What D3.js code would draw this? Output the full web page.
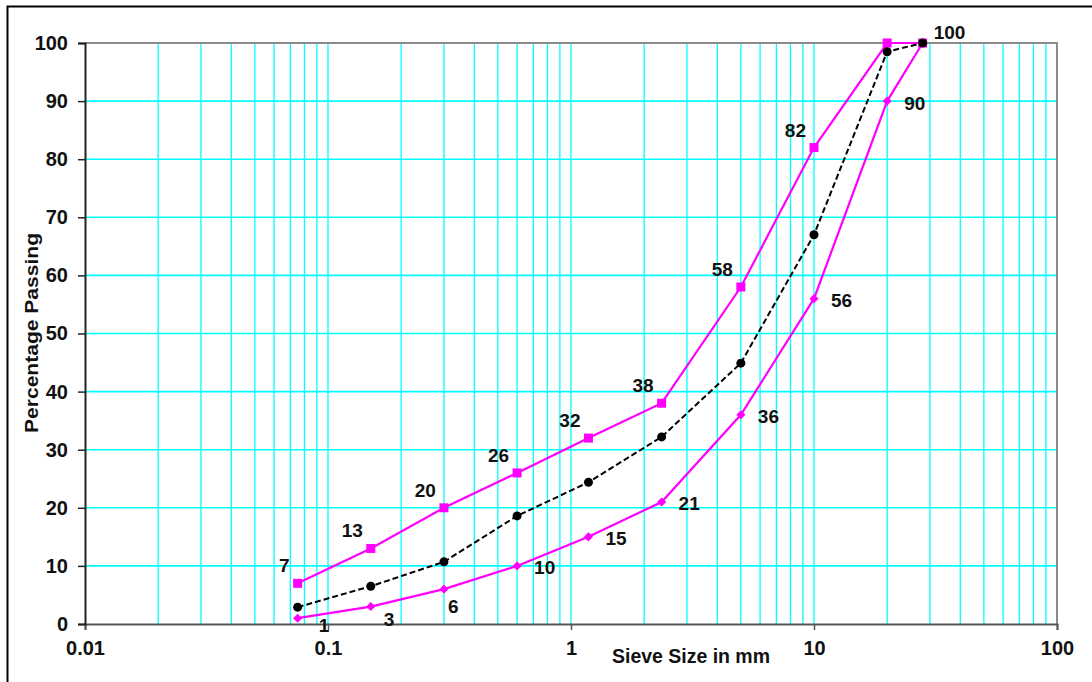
<!DOCTYPE html>
<html>
<head>
<meta charset="utf-8">
<script src="https://cdn.jsdelivr.net/npm/d3@7/dist/d3.min.js"></script>
<style>
  body { margin: 0; background: #fff; }
  text { font-family: Arial, "Liberation Sans", sans-serif; }
</style>
</head>
<body>
<div id="chart"></div>
<script>
// sieve sizes in mm (x) and % passing (y)
const sieveSizes = [0.075, 0.15, 0.3, 0.6, 1.18, 2.36, 5, 10, 20, 28];
const upperLimit = [7, 13, 20, 26, 32, 38, 58, 82, 100, 100];
const lowerLimit = [1, 3, 6, 10, 15, 21, 36, 56, 90, 100];
const passing = [2.9, 6.5, 10.7, 18.6, 24.4, 32.2, 44.9, 67, 98.5, 100];
const xTicks = [0.01, 0.1, 1, 10, 100];
const yTicks = [0, 10, 20, 30, 40, 50, 60, 70, 80, 90, 100];

const W = 1092, H = 682;
const margin = {top: 43, right: 35, bottom: 58, left: 85};
const width = W - margin.left - margin.right;
const height = H - margin.top - margin.bottom;

const svg = d3.select("#chart").append("svg")
  .attr("width", W).attr("height", H);

// outer frame (runs off the right/bottom of the picture)
svg.append("rect")
  .attr("x", 7.5).attr("y", 6.5)
  .attr("width", 1200).attr("height", 800)
  .attr("fill", "none").attr("stroke", "#000").attr("stroke-width", 2);

const g = svg.append("g")
  .attr("transform", "translate(" + margin.left + "," + margin.top + ")");

const x = d3.scaleLog().domain([0.01, 100]).range([0, width]);
const y = d3.scaleLinear().domain([0, 100]).range([height, 0]);

// grid lines
let minor = [];
[0.01, 0.1, 1, 10].forEach(d => {
  for (let k = 1; k <= 9; k++) minor.push(d * k);
});
minor = minor.filter(v => v > 0.01);
minor.push(100);

g.append("g").selectAll("line")
  .data(minor)
  .enter().append("line")
  .attr("x1", d => x(d)).attr("x2", d => x(d))
  .attr("y1", 0).attr("y2", height)
  .attr("stroke", "#00ffff").attr("stroke-width", 1.3);

g.append("g").selectAll("line")
  .data(yTicks.filter(d => d > 0))
  .enter().append("line")
  .attr("x1", 0).attr("x2", width)
  .attr("y1", d => y(d)).attr("y2", d => y(d))
  .attr("stroke", "#00ffff").attr("stroke-width", 1.6);

// plot border (top/right grey)
g.append("path")
  .attr("d", "M0,0H" + width + "V" + height)
  .attr("fill", "none").attr("stroke", "#8a8a8a").attr("stroke-width", 2);

// axes
const xAxis = g.append("g")
  .attr("transform", "translate(0," + height + ")")
  .call(d3.axisBottom(x).tickValues(xTicks).tickFormat(d => String(d)).tickSize(6).tickPadding(11));
xAxis.select(".domain").attr("stroke", "#555").attr("stroke-width", 2);
xAxis.selectAll(".tick line").attr("stroke", "#555").attr("stroke-width", 1.5);
xAxis.selectAll("text")
  .attr("font-size", 20).attr("font-weight", "bold").attr("fill", "#111")
  .attr("font-family", "Arial, 'Liberation Sans', sans-serif");

const yAxis = g.append("g")
  .call(d3.axisLeft(y).tickValues(yTicks).tickSize(7).tickPadding(10));
yAxis.select(".domain").attr("stroke", "#222").attr("stroke-width", 2);
yAxis.selectAll(".tick line").attr("stroke", "#222").attr("stroke-width", 1.5);
yAxis.selectAll("text")
  .attr("font-size", 20).attr("font-weight", "bold").attr("fill", "#111")
  .attr("font-family", "Arial, 'Liberation Sans', sans-serif");

// axis titles
svg.append("text")
  .attr("x", 612).attr("y", 663)
  .attr("font-size", 20).attr("font-weight", "bold").attr("fill", "#111")
  .attr("textLength", 158).attr("lengthAdjust", "spacingAndGlyphs")
  .text("Sieve Size in mm");

svg.append("text")
  .attr("transform", "translate(38,333) rotate(-90)")
  .attr("text-anchor", "middle")
  .attr("font-size", 19).attr("font-weight", "bold").attr("fill", "#111")
  .attr("textLength", 200).attr("lengthAdjust", "spacingAndGlyphs")
  .text("Percentage Passing");

// lines
const magenta = "#ff00ff";
const line = vals => d3.line()
  .x((d, i) => x(sieveSizes[i]))
  .y(d => y(d))(vals);

g.append("path").attr("d", line(upperLimit))
  .attr("fill", "none").attr("stroke", magenta).attr("stroke-width", 2.2);
g.append("path").attr("d", line(lowerLimit))
  .attr("fill", "none").attr("stroke", magenta).attr("stroke-width", 2.2);

g.append("g").selectAll("rect")
  .data(upperLimit)
  .enter().append("rect")
  .attr("x", (d, i) => x(sieveSizes[i]) - 4.5)
  .attr("y", d => y(d) - 4.5)
  .attr("width", 9).attr("height", 9)
  .attr("fill", magenta);

// diamonds: rotated squares
g.append("g").selectAll("rect")
  .data(lowerLimit)
  .enter().append("rect")
  .attr("x", -3.2).attr("y", -3.2)
  .attr("width", 6.4).attr("height", 6.4)
  .attr("transform", (d, i) => "translate(" + x(sieveSizes[i]) + "," + y(d) + ") rotate(45)")
  .attr("fill", magenta);

g.append("path").attr("d", line(passing))
  .attr("fill", "none").attr("stroke", "#000").attr("stroke-width", 2)
  .attr("stroke-dasharray", "6,3");

g.append("g").selectAll("circle")
  .data(passing)
  .enter().append("circle")
  .attr("cx", (d, i) => x(sieveSizes[i]))
  .attr("cy", d => y(d))
  .attr("r", 4.5)
  .attr("fill", "#000");

// data labels
const labelStyle = sel => sel
  .attr("font-size", 19).attr("font-weight", "bold").attr("fill", "#111");

g.append("g").selectAll("text")
  .data(upperLimit.slice(0, 8))
  .enter().append("text")
  .attr("x", (d, i) => x(sieveSizes[i]) - 8)
  .attr("y", d => y(d) - 11)
  .attr("text-anchor", "end")
  .text(d => d)
  .call(labelStyle);

// low labels near the x axis are pushed down/left like in the original
const lowNudge = {0: [21, 14], 1: [13, 19], 2: [4, 24]};
g.append("g").selectAll("text")
  .data(lowerLimit.slice(0, 9))
  .enter().append("text")
  .attr("x", (d, i) => x(sieveSizes[i]) + (lowNudge[i] ? lowNudge[i][0] : 17))
  .attr("y", (d, i) => y(d) + (lowNudge[i] ? lowNudge[i][1] : 8.5))
  .text(d => d)
  .call(labelStyle);

const last = sieveSizes.length - 1;
g.append("text")
  .attr("x", x(sieveSizes[last]) + 11)
  .attr("y", y(upperLimit[last]) - 4)
  .text(upperLimit[last])
  .call(labelStyle);
</script>
</body>
</html>
